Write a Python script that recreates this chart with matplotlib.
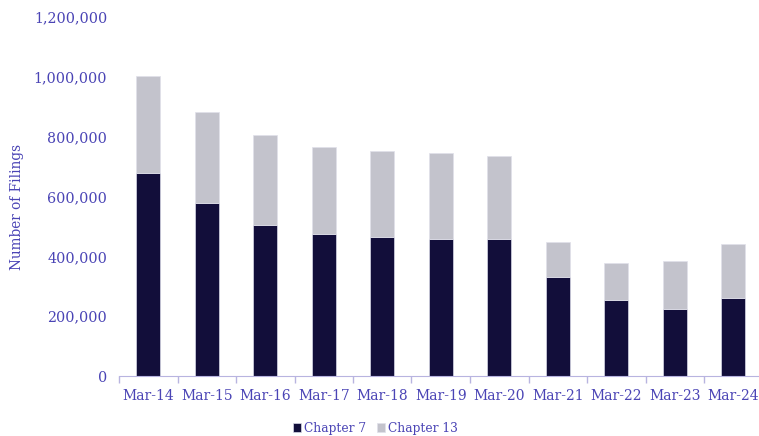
import matplotlib
matplotlib.use("Agg")
import matplotlib.pyplot as plt
import numpy as np

categories = ["Mar-14", "Mar-15", "Mar-16", "Mar-17", "Mar-18", "Mar-19",
              "Mar-20", "Mar-21", "Mar-22", "Mar-23", "Mar-24"]
chapter7 = [678000, 578000, 506000, 474000, 464000, 458000,
            458000, 332000, 254000, 223000, 260000]
totals = [1003000, 881000, 805000, 767000, 753000, 746000,
          737000, 449000, 379000, 386000, 442000]
chapter13 = [t - c for t, c in zip(totals, chapter7)]
yticks = [0, 200000, 400000, 600000, 800000, 1000000, 1200000]

text_color = "#4a44b5"
c7 = "#120e3a"
c13 = "#c3c3cc"
plt.rcParams['font.family'] = ['DejaVu Serif']

fig = plt.figure(figsize=(7.59, 4.36), dpi=100)
ax = fig.add_axes([119/759, 60/436, 643.5/759, 359/436])
x = np.arange(len(categories))
w = 0.41
ax.bar(x, chapter7, width=w, color=c7, label="Chapter 7", edgecolor="#d8d8e8", linewidth=0.5)
ax.bar(x, chapter13, bottom=chapter7, width=w, color=c13, label="Chapter 13", edgecolor="#e0e0ea", linewidth=0.5)

ax.set_xlim(-0.5, len(categories) - 0.5)
ax.set_ylim(0, 1200000)
ax.set_yticks(yticks)
ax.set_yticklabels([f"{v:,}" for v in yticks], color=text_color, fontsize=10.3)
ax.tick_params(axis='y', length=0, pad=8.5)
ax.set_xticks(x)
ax.set_xticklabels(categories, color=text_color, fontsize=10)
ax.set_xticks(np.arange(-0.5, len(categories), 1), minor=True)
ax.tick_params(axis='x', which='major', length=0, pad=9)
ax.tick_params(axis='x', which='minor', length=5, color="#b8b4e0", width=1)
for s in ["top", "right", "left"]:
    ax.spines[s].set_visible(False)
ax.spines["bottom"].set_color("#b8b4e0")
ax.set_ylabel("Number of Filings", color=text_color, fontsize=9.8)
ax.yaxis.set_label_coords(-95/643.5, (376 - 207) / 359)

leg = fig.legend(loc="center", bbox_to_anchor=(375/759, 1 - 428/436), ncol=2, frameon=False,
                 prop={'family': 'DejaVu Serif', 'size': 8.8},
                 handlelength=0.7, handleheight=0.7, handletextpad=0.2,
                 columnspacing=0.9)
for t in leg.get_texts():
    t.set_color(text_color)

fig.savefig("out.png", dpi=100)
